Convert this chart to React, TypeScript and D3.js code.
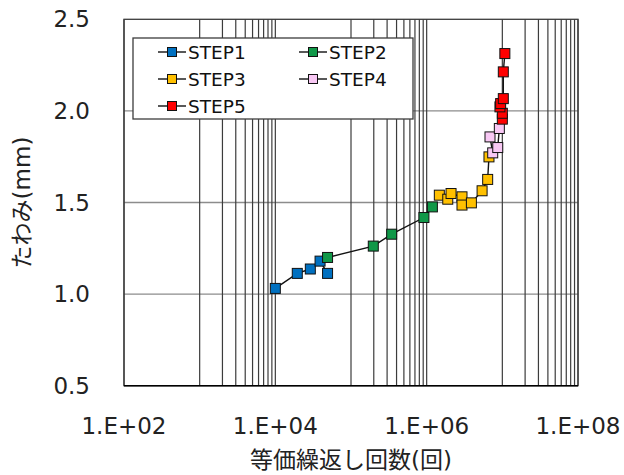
import React from "react";
import * as d3 from "d3";

// equivalent cycles (N) and deflection (mm)
const step1: [number, number][] = [
  [1.0e4, 1.031],
  [1.95e4, 1.113],
  [2.9e4, 1.137],
  [3.9e4, 1.18],
  [4.9e4, 1.113],
];
const step2: [number, number][] = [
  [4.9e4, 1.2],
  [1.97e5, 1.262],
  [3.45e5, 1.327],
  [9.2e5, 1.418],
  [1.19e6, 1.476],
];
const step3: [number, number][] = [
  [1.47e6, 1.54],
  [1.9e6, 1.518],
  [2.1e6, 1.549],
  [2.93e6, 1.531],
  [2.93e6, 1.486],
  [3.9e6, 1.498],
  [5.4e6, 1.564],
  [6.4e6, 1.626],
  [6.66e6, 1.749],
];
const step4: [number, number][] = [
  [6.87e6, 1.858],
  [7.46e6, 1.771],
  [8.7e6, 1.8],
  [9.13e6, 1.904],
];
const step5: [number, number][] = [
  [1.0e7, 1.955],
  [1.0e7, 1.987],
  [9.3e6, 2.022],
  [9.5e6, 2.04],
  [1.03e7, 2.067],
  [1.03e7, 2.213],
  [1.08e7, 2.313],
];

const seriesNames = ["STEP1", "STEP2", "STEP3", "STEP4", "STEP5"];
const seriesColors = ["#0070C0", "#109848", "#FFC000", "#F8C8F4", "#FF0000"];
const seriesData = [step1, step2, step3, step4, step5];

const xTicks = [1e2, 1e4, 1e6, 1e8];
const xMajorGrid = [1e2, 1e3, 1e4, 1e5, 1e6, 1e7, 1e8];
const xMinorDecades = [1e3, 1e5, 1e7];
const yTicks = [0.5, 1.0, 1.5, 2.0, 2.5];

const xTitle = "等価繰返し回数(回)";
const yTitle = "たわみ(mm)";

const FONT = "'DejaVu Sans', 'Noto Sans CJK JP', sans-serif";

export default function App() {
  const svgRef = React.useRef<SVGSVGElement>(null);

  var width = 624;
  var height = 475;
  var margin = { top: 19.3, right: 46, bottom: 89.3, left: 124 };

  React.useEffect(() => {
    const svg = d3.select(svgRef.current);
    svg.selectAll("*").remove();

    var xScale = d3
      .scaleLog()
      .domain([1e2, 1e8])
      .range([margin.left, width - margin.right]);

    var yScale = d3
      .scaleLinear()
      .domain([0.5, 2.5])
      .range([height - margin.bottom, margin.top]);

    /* horizontal grid */
    svg
      .append("g")
      .selectAll("line")
      .data(yTicks.slice(1, -1))
      .enter()
      .append("line")
      .attr("x1", xScale(1e2))
      .attr("x2", xScale(1e8))
      .attr("y1", (d) => yScale(d))
      .attr("y2", (d) => yScale(d))
      .attr("stroke", "#8c8c8c")
      .attr("stroke-width", 1.3);

    /* vertical grid (minor only in odd decades, as in the figure) */
    var minors: number[] = [];
    xMinorDecades.forEach((dec) => {
      for (let m = 2; m <= 9; m++) minors.push(dec * m);
    });
    svg
      .append("g")
      .selectAll("line")
      .data(xMajorGrid.concat(minors))
      .enter()
      .append("line")
      .attr("x1", (d) => xScale(d))
      .attr("x2", (d) => xScale(d))
      .attr("y1", yScale(0.5))
      .attr("y2", yScale(2.5))
      .attr("stroke", "#3c3c3c")
      .attr("stroke-width", 1.2);

    /* frame */
    svg
      .append("rect")
      .attr("x", xScale(1e2))
      .attr("y", yScale(2.5))
      .attr("width", xScale(1e8) - xScale(1e2))
      .attr("height", yScale(0.5) - yScale(2.5))
      .attr("fill", "none")
      .attr("stroke", "#3c3c3c")
      .attr("stroke-width", 1.3);
    svg
      .append("line")
      .attr("x1", xScale(1e2))
      .attr("x2", xScale(1e8))
      .attr("y1", yScale(0.5))
      .attr("y2", yScale(0.5))
      .attr("stroke", "#000")
      .attr("stroke-width", 1.5);

    /* tick labels */
    svg
      .append("g")
      .selectAll("text")
      .data(xTicks)
      .enter()
      .append("text")
      .attr("x", (d) => xScale(d))
      .attr("y", 434)
      .attr("text-anchor", "middle")
      .attr("font-family", FONT)
      .attr("font-size", 23)
      .attr("fill", "#222")
      .text((d) => "1.E+" + String(Math.round(Math.log10(d))).padStart(2, "0"));

    svg
      .append("g")
      .selectAll("text")
      .data(yTicks)
      .enter()
      .append("text")
      .attr("x", 90)
      .attr("y", (d) => yScale(d) + 8)
      .attr("text-anchor", "end")
      .attr("font-family", FONT)
      .attr("font-size", 23)
      .attr("fill", "#222")
      .text((d) => d.toFixed(1));

    /* axis titles */
    svg
      .append("text")
      .attr("x", (xScale(1e2) + xScale(1e8)) / 2)
      .attr("y", 468)
      .attr("text-anchor", "middle")
      .attr("font-family", FONT)
      .attr("font-size", 23)
      .attr("fill", "#222")
      .text(xTitle);

    svg
      .append("text")
      .attr("transform", `translate(30, ${(yScale(0.5) + yScale(2.5)) / 2}) rotate(-90)`)
      .attr("text-anchor", "middle")
      .attr("font-family", FONT)
      .attr("font-size", 23)
      .attr("fill", "#222")
      .text(yTitle);

    /* series lines + markers */
    var line = d3
      .line<[number, number]>()
      .x((d) => xScale(d[0]))
      .y((d) => yScale(d[1]));

    var ms = 10;
    seriesData.forEach((data, i) => {
      svg
        .append("path")
        .attr("d", line(data))
        .attr("fill", "none")
        .attr("stroke", "#111")
        .attr("stroke-width", 1.4);
      svg
        .append("g")
        .selectAll("rect")
        .data(data)
        .enter()
        .append("rect")
        .attr("x", (d) => xScale(d[0]) - ms / 2)
        .attr("y", (d) => yScale(d[1]) - ms / 2)
        .attr("width", ms)
        .attr("height", ms)
        .attr("fill", seriesColors[i])
        .attr("stroke", "#111")
        .attr("stroke-width", 1);
    });

    /* legend */
    var lg = svg.append("g");
    lg.append("rect")
      .attr("x", 133)
      .attr("y", 38)
      .attr("width", 280)
      .attr("height", 81)
      .attr("fill", "#fff")
      .attr("stroke", "#3c3c3c")
      .attr("stroke-width", 1.3);

    seriesNames.forEach((name, i) => {
      var col = i % 2;
      var row = Math.floor(i / 2);
      var lx = 158 + col * 141;
      var ly = 52 + row * 27;
      lg.append("line")
        .attr("x1", lx)
        .attr("x2", lx + 28)
        .attr("y1", ly)
        .attr("y2", ly)
        .attr("stroke", "#111")
        .attr("stroke-width", 1.4);
      lg.append("rect")
        .attr("x", lx + 14 - 4.5)
        .attr("y", ly - 4.5)
        .attr("width", 9)
        .attr("height", 9)
        .attr("fill", seriesColors[i])
        .attr("stroke", "#111")
        .attr("stroke-width", 1);
      lg.append("text")
        .attr("x", lx + 30)
        .attr("y", ly + 6.5)
        .attr("font-family", FONT)
        .attr("font-size", 18.5)
        .attr("fill", "#111")
        .text(name);
    });
    // eslint-disable-next-line
  }, []);

  return (
    <svg
      ref={svgRef}
      width={width}
      height={height}
      style={{ display: "block", position: "absolute", left: 0, top: 0, background: "#fff" }}
    />
  );
}
